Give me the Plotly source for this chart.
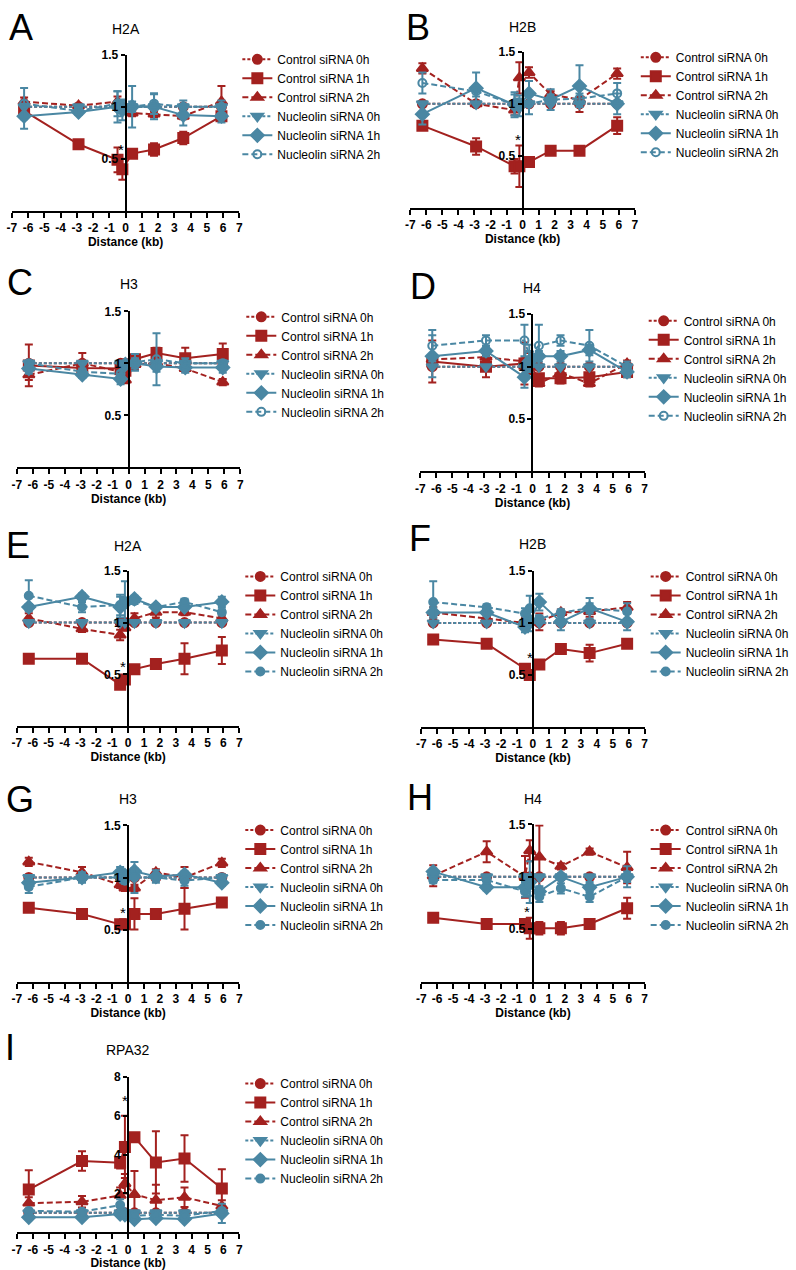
import plotly.graph_objects as go

# ---------------- data ----------------
X_KB = [-6.25, -2.9, -0.5, -0.2, 0.4, 1.75, 3.55, 5.9]
X_TICKS = [-7, -6, -5, -4, -3, -2, -1, 0, 1, 2, 3, 4, 5, 6, 7]
SERIES = ["Control siRNA 0h", "Control siRNA 1h", "Control siRNA 2h",
          "Nucleolin siRNA 0h", "Nucleolin siRNA 1h", "Nucleolin siRNA 2h"]
LETTERS = ["A", "B", "C", "D", "E", "F", "G", "H", "I"]
TITLES = ["H2A", "H2B", "H3", "H4", "H2A", "H2B", "H3", "H4", "RPA32"]
Y_TICKS_HIST = [0.5, 1, 1.5]
Y_TICKTEXT_HIST = ["0.5", "1", "1.5"]
Y_TICKS_RPA = [2, 4, 6, 8]
Y_TICKTEXT_RPA = ["2", "4", "6", "8"]

ONES = [1.0, 1.0, 1.0, 1.0, 1.0, 1.0, 1.0, 1.0]
ZEROS = [0.0, 0.0, 0.0, 0.0, 0.0, 0.0, 0.0, 0.0]

A_mean = [ONES,
          [0.96, 0.64, 0.49, 0.40, 0.55, 0.59, 0.70, 0.91],
          [1.05, 1.01, 1.05, 1.00, 0.94, 0.93, 0.91, 1.05],
          ONES,
          [0.91, 0.95, 1.00, 0.97, 1.00, 1.00, 0.92, 0.91],
          [1.03, 0.96, 1.03, 1.01, 1.00, 1.03, 1.00, 1.00]]
A_err = [ZEROS,
         [0.03, 0.03, 0.12, 0.10, 0.03, 0.06, 0.06, 0.03],
         [0.04, 0.02, 0.05, 0.03, 0.03, 0.03, 0.03, 0.15],
         ZEROS,
         [0.12, 0.03, 0.15, 0.10, 0.05, 0.12, 0.10, 0.06],
         [0.15, 0.03, 0.12, 0.05, 0.20, 0.10, 0.06, 0.06]]

B_mean = [ONES,
          [0.79, 0.59, 0.40, 0.40, 0.44, 0.55, 0.55, 0.79],
          [1.34, 1.00, 0.94, 1.25, 1.30, 1.09, 1.04, 1.29],
          ONES,
          [0.90, 1.15, 0.99, 0.98, 1.10, 1.04, 1.17, 1.00],
          [1.20, 1.12, 0.99, 1.00, 1.00, 1.04, 1.05, 1.10]]
B_err = [ZEROS,
         [0.03, 0.08, 0.07, 0.20, 0.03, 0.03, 0.03, 0.08],
         [0.05, 0.03, 0.05, 0.15, 0.05, 0.03, 0.12, 0.05],
         ZEROS,
         [0.10, 0.15, 0.12, 0.10, 0.12, 0.10, 0.20, 0.10],
         [0.10, 0.05, 0.10, 0.05, 0.10, 0.05, 0.05, 0.10]]

C_mean = [ONES,
          [0.98, 0.955, 0.95, 0.93, 1.04, 1.10, 1.05, 1.09],
          [0.89, 1.00, 0.92, 0.84, 0.99, 1.00, 0.95, 0.82],
          ONES,
          [0.95, 0.89, 0.85, 0.99, 1.00, 0.97, 0.96, 0.96],
          [1.00, 0.92, 0.90, 0.99, 1.01, 1.04, 1.00, 1.00]]
C_err = [ZEROS,
         [0.20, 0.03, 0.05, 0.03, 0.05, 0.05, 0.10, 0.10],
         [0.05, 0.10, 0.03, 0.03, 0.05, 0.03, 0.03, 0.03],
         ZEROS,
         [0.05, 0.03, 0.05, 0.03, 0.05, 0.05, 0.05, 0.05],
         [0.03, 0.03, 0.03, 0.03, 0.08, 0.25, 0.05, 0.03]]

D_mean = [ONES,
          [1.05, 1.00, 1.03, 1.02, 0.89, 0.89, 0.90, 0.95],
          [1.07, 1.09, 1.05, 1.03, 0.84, 0.94, 0.84, 1.03],
          ONES,
          [1.10, 1.15, 0.90, 1.05, 1.10, 1.10, 1.16, 0.95],
          [1.20, 1.25, 1.25, 1.11, 1.20, 1.25, 1.20, 1.00]]
D_err = [ZEROS,
         [0.20, 0.10, 0.20, 0.05, 0.03, 0.05, 0.03, 0.05],
         [0.03, 0.03, 0.03, 0.10, 0.03, 0.05, 0.03, 0.03],
         ZEROS,
         [0.20, 0.05, 0.10, 0.10, 0.05, 0.05, 0.05, 0.05],
         [0.15, 0.05, 0.15, 0.10, 0.20, 0.05, 0.15, 0.05]]

E_mean = [ONES,
          [0.65, 0.65, 0.40, 0.45, 0.55, 0.60, 0.65, 0.73],
          [1.04, 0.94, 0.88, 0.95, 1.04, 1.10, 1.10, 1.04],
          ONES,
          [1.15, 1.25, 1.15, 1.19, 1.23, 1.15, 1.15, 1.20],
          [1.26, 1.15, 1.17, 1.20, 1.21, 1.15, 1.20, 1.10]]
E_err = [ZEROS,
         [0.03, 0.03, 0.03, 0.03, 0.03, 0.02, 0.15, 0.13],
         [0.05, 0.03, 0.05, 0.03, 0.05, 0.05, 0.03, 0.03],
         ZEROS,
         [0.03, 0.03, 0.10, 0.05, 0.03, 0.03, 0.03, 0.05],
         [0.15, 0.05, 0.10, 0.20, 0.03, 0.03, 0.03, 0.03]]

F_mean = [ONES,
          [0.84, 0.80, 0.56, 0.50, 0.60, 0.75, 0.71, 0.80],
          [1.10, 1.04, 1.00, 1.01, 1.01, 1.10, 1.11, 1.15],
          ONES,
          [1.10, 1.10, 0.96, 1.02, 1.20, 1.01, 1.14, 1.01],
          [1.20, 1.15, 1.09, 1.14, 1.04, 1.10, 1.14, 1.11]]
F_err = [ZEROS,
         [0.04, 0.02, 0.03, 0.02, 0.02, 0.04, 0.08, 0.02],
         [0.05, 0.02, 0.05, 0.03, 0.08, 0.03, 0.05, 0.05],
         ZEROS,
         [0.05, 0.03, 0.05, 0.10, 0.08, 0.08, 0.05, 0.08],
         [0.20, 0.03, 0.05, 0.12, 0.03, 0.03, 0.10, 0.08]]

G_mean = [ONES,
          [0.71, 0.65, 0.55, 0.55, 0.65, 0.65, 0.70, 0.76],
          [1.15, 1.05, 0.93, 0.90, 0.90, 1.05, 1.00, 1.14],
          ONES,
          [0.95, 1.00, 1.05, 1.02, 1.06, 1.01, 1.03, 0.95],
          [0.91, 1.00, 1.00, 0.97, 1.00, 1.00, 0.97, 1.00]]
G_err = [ZEROS,
         [0.02, 0.03, 0.03, 0.03, 0.15, 0.03, 0.20, 0.04],
         [0.04, 0.05, 0.03, 0.03, 0.03, 0.03, 0.10, 0.04],
         ZEROS,
         [0.06, 0.05, 0.05, 0.03, 0.03, 0.06, 0.03, 0.03],
         [0.06, 0.03, 0.03, 0.03, 0.15, 0.03, 0.05, 0.03]]

H_mean = [ONES,
          [0.61, 0.55, 0.55, 0.51, 0.51, 0.51, 0.55, 0.70],
          [1.01, 1.24, 1.00, 1.25, 1.19, 1.10, 1.24, 1.09],
          ONES,
          [1.05, 0.90, 0.90, 0.95, 0.86, 1.00, 0.90, 1.00],
          [0.97, 0.97, 0.86, 0.92, 0.81, 0.89, 0.81, 1.00]]
H_err = [ZEROS,
         [0.02, 0.03, 0.03, 0.10, 0.06, 0.06, 0.03, 0.10],
         [0.10, 0.10, 0.20, 0.10, 0.30, 0.03, 0.03, 0.15],
         ZEROS,
         [0.03, 0.03, 0.05, 0.20, 0.05, 0.03, 0.05, 0.10],
         [0.03, 0.03, 0.05, 0.10, 0.05, 0.05, 0.05, 0.05]]

I_mean = [ONES,
          [2.20, 3.67, 3.58, 4.40, 4.90, 3.60, 3.80, 2.25],
          [1.50, 1.57, 1.90, 2.50, 1.95, 1.65, 1.80, 1.35],
          ONES,
          [0.77, 0.77, 0.94, 0.90, 0.67, 0.72, 0.68, 0.97],
          [1.10, 1.06, 1.40, 0.95, 0.85, 0.90, 0.85, 1.10]]
I_err = [ZEROS,
         [1.00, 0.50, 0.30, 1.60, 0.20, 1.60, 1.20, 1.00],
         [0.30, 0.30, 0.40, 0.50, 1.20, 0.80, 0.50, 0.30],
         ZEROS,
         [0.10, 0.10, 0.10, 0.10, 0.10, 0.10, 0.10, 0.50],
         [0.10, 0.10, 0.30, 0.10, 0.10, 0.10, 0.10, 0.10]]

# significance marks (x, y) per panel; None = no mark
STARS = [(-0.28, 0.59), (-0.29, 0.66), None, None, (-0.3, 0.58),
         (-0.2, 0.67), (-0.3, 0.66), (-0.35, 0.67), (-0.2, 6.8)]

MEANS = [A_mean, B_mean, C_mean, D_mean, E_mean, F_mean, G_mean, H_mean, I_mean]
ERRS = [A_err, B_err, C_err, D_err, E_err, F_err, G_err, H_err, I_err]
YMAX = [1.5, 1.5, 1.5, 1.5, 1.5, 1.5, 1.5, 1.5, 8]

# ---------------- styling / layout ----------------
W, H = 796, 1270
RED = "#A3211F"
BLUE = "#4A87A3"
FONT = "Liberation Sans, Arial, Helvetica, sans-serif"

# pixel geometry: x0, x1, ytop, ybottom, legend text x, legend first row y
GEOM = [
    (7, 237, 48, 205, 277, 58),
    (410, 637, 45, 202, 680, 56),
    (12, 238, 306, 463, 281, 317),
    (420, 647, 309, 467, 688, 321),
    (12, 237, 567, 723, 280, 578),
    (421, 647, 567, 724, 690, 578),
    (12, 237, 823, 980, 280, 833),
    (421, 647, 822, 980, 690, 833),
    (12, 237, 1076, 1232, 280, 1088),
]
LETTER_POS = [(16, 21), (418, 21), (15, 277), (423, 281), (13, 541),
              (420, 534), (15, 797), (420, 795), (5, 1046)]
TITLE_Y = [22, 20, 279, 283, 542, 540, 796, 796, 1049]

STYLE = [
    dict(color=RED, symbol="circle", dash="3px,2px"),
    dict(color=RED, symbol="square", dash="solid"),
    dict(color=RED, symbol="triangle-up", dash="6px,3px"),
    dict(color=BLUE, symbol="triangle-down", dash="3px,2px"),
    dict(color=BLUE, symbol="diamond", dash="solid"),
    dict(color=BLUE, symbol="circle-open", dash="6px,3px"),
]
SIZES = [9, 10, 10, 10, 10, 8]

fig = go.Figure()
layout = dict(width=W, height=H, margin=dict(l=0, r=0, t=0, b=0),
              paper_bgcolor="white", plot_bgcolor="white",
              font=dict(family=FONT, color="black"), showlegend=True)
annotations = []

for p in range(9):
    i = p + 1
    sfx = "" if i == 1 else str(i)
    x0, x1, yt, yb, lx, ly = GEOM[p]
    xzero_paper = (x0 + (x1 - x0) / 2) / W
    leg = "legend" + sfx
    for s in range(6):
        st = STYLE[s]
        sym = st["symbol"]
        if s == 5 and p >= 4:
            sym = "circle"
        fig.add_trace(go.Scatter(
            x=X_KB, y=MEANS[p][s], name=SERIES[s], mode="lines+markers",
            xaxis="x" + sfx, yaxis="y" + sfx, legend=leg,
            line=dict(color=st["color"], width=2, dash=st["dash"]),
            marker=dict(symbol=sym, size=SIZES[s], color=st["color"],
                        line=dict(color=st["color"], width=2)),
            error_y=dict(type="data", array=ERRS[p][s], visible=True,
                         color=st["color"], thickness=2, width=4),
            cliponaxis=False,
        ))
    layout["xaxis" + sfx] = dict(
        domain=[x0 / W, x1 / W], range=[-7, 7], anchor="y" + sfx,
        tickmode="array", tickvals=X_TICKS, ticktext=[str(t) for t in X_TICKS],
        ticks="outside", ticklen=5, tickwidth=2, tickcolor="black",
        showline=True, linewidth=2, linecolor="black",
        showgrid=False, zeroline=False,
        tickfont=dict(size=12, family=FONT, weight="bold"),
        title=dict(text="Distance (kb)", standoff=1,
                   font=dict(size=12, family=FONT, weight="bold")),
    )
    if YMAX[p] > 2:
        tv, tt = Y_TICKS_RPA, Y_TICKTEXT_RPA
    else:
        tv, tt = Y_TICKS_HIST, Y_TICKTEXT_HIST
    layout["yaxis" + sfx] = dict(
        domain=[1 - yb / H, 1 - yt / H], range=[0, YMAX[p]],
        anchor="free", position=xzero_paper, side="left",
        tickmode="array", tickvals=tv, ticktext=tt,
        ticks="outside", ticklen=4, tickwidth=2, tickcolor="black",
        showline=True, linewidth=2, linecolor="black",
        showgrid=False, zeroline=False,
        tickfont=dict(size=12, family=FONT, weight="bold"),
    )
    layout[leg] = dict(
        x=(lx - 42) / W, y=1 - (ly - 20) / H, xanchor="left", yanchor="top",
        font=dict(size=12, family=FONT, color="black"),
        bgcolor="rgba(0,0,0,0)", traceorder="normal",
    )
    cx, cy = LETTER_POS[p]
    annotations.append(dict(text=LETTERS[p], x=cx / W, y=1 - cy / H,
                            xref="paper", yref="paper", showarrow=False,
                            xanchor="center", yanchor="middle",
                            font=dict(size=36, family=FONT, color="black")))
    annotations.append(dict(text=TITLES[p], x=xzero_paper, y=1 - TITLE_Y[p] / H,
                            xref="paper", yref="paper", showarrow=False,
                            xanchor="center", yanchor="middle",
                            font=dict(size=14, family=FONT, color="black")))
    if STARS[p] is not None:
        annotations.append(dict(text="*", x=STARS[p][0], y=STARS[p][1],
                                xref="x" + sfx, yref="y" + sfx, showarrow=False,
                                xanchor="center", yanchor="middle",
                                font=dict(size=15, family=FONT, color="black")))

layout["annotations"] = annotations
fig.update_layout(**layout)
fig.write_html("out.html", config={"displayModeBar": False},
               post_script="document.body.style.margin='0';"
                           "document.body.style.overflow='hidden';")
